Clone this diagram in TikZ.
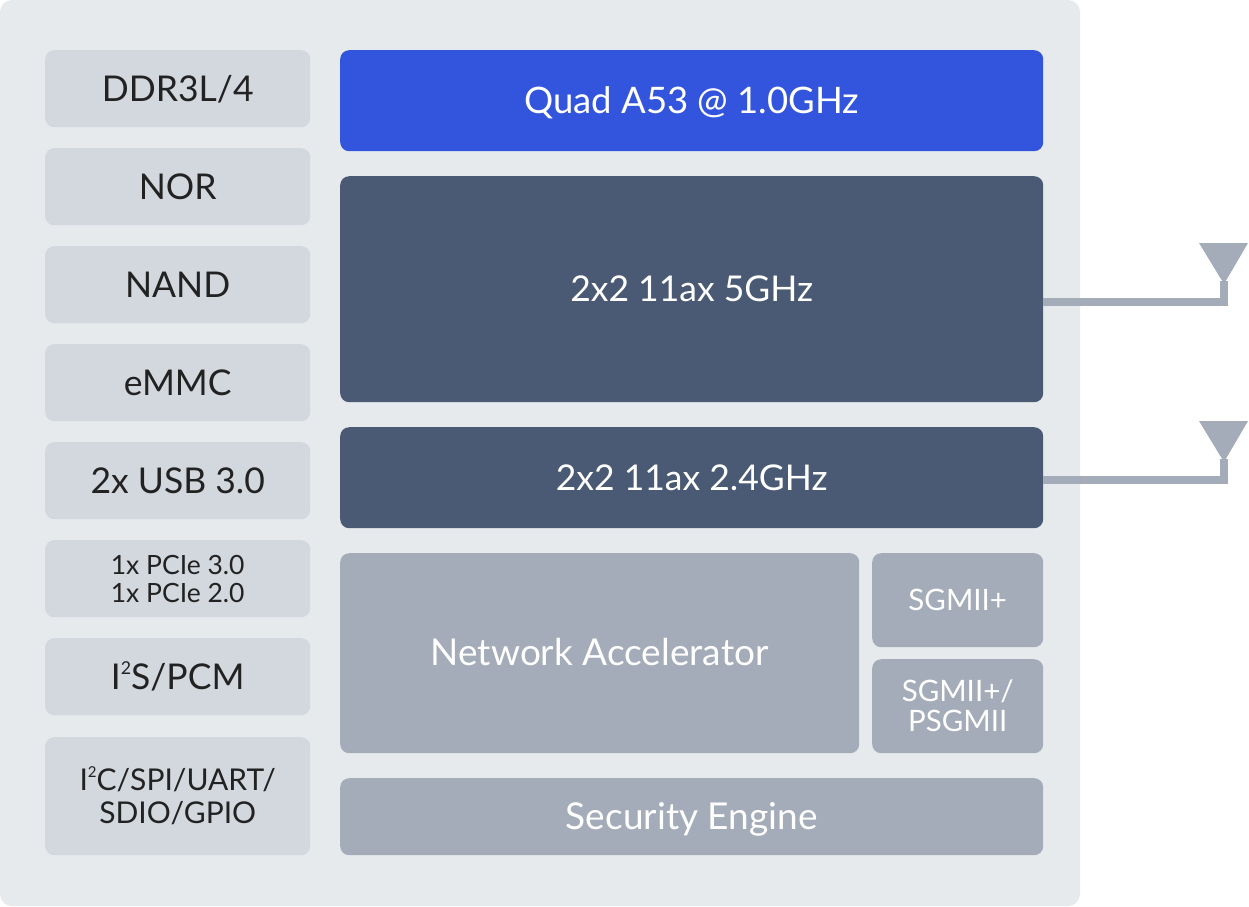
\documentclass[tikz,border=0pt]{standalone}
\usepackage{fontspec}
\setmainfont{Lato}
\definecolor{bgc}{HTML}{E6EAED}
\definecolor{leftc}{HTML}{D3D7DE}
\definecolor{bluec}{HTML}{3355DD}
\definecolor{darkc}{HTML}{4A5A75}
\definecolor{grayc}{HTML}{A5ACB9}
\definecolor{txtc}{HTML}{222222}
\newcommand{\supsmall}[1]{\raisebox{0.42em}{\scalebox{0.5}{#1}}}
\tikzset{
  blk/.style={anchor=north west, rounded corners=9pt, inner sep=0pt, align=center, font=\fontsize{35.5}{40}\selectfont, text height=25.5pt, text depth=0pt},
  leftbox/.style={blk, fill=leftc, text=txtc, minimum width=265pt},
  whitebox/.style={blk, text=white},
  ant/.style={grayc, line width=7.5pt},
  antfill/.style={fill=grayc},
}
\begin{document}
\begin{tikzpicture}[x=1pt,y=-1pt]
\useasboundingbox (0,0) rectangle (1249,906);
\fill[bgc, rounded corners=12pt] (0,0) rectangle (1080,906);
% left column
\node[leftbox, minimum height=77pt] (ddr) at (45,50) {DDR3L/4};
\node[leftbox, minimum height=77pt] (nor) at (45,148) {NOR};
\node[leftbox, minimum height=77pt] (nand) at (45,246) {NAND};
\node[leftbox, minimum height=77pt] (emmc) at (45,344) {eMMC};
\node[leftbox, minimum height=77pt] (usb) at (45,442) {2x USB 3.0};
\node[leftbox, minimum height=77pt, font=\fontsize{26.5}{28}\selectfont, text height=47pt] (pcie) at (45,540) {1x PCIe 3.0\\1x PCIe 2.0};
\node[leftbox, minimum height=77pt] (i2s) at (45,638) {I\supsmall{2}S/PCM};
\node[leftbox, minimum height=118pt, font=\fontsize{30}{33}\selectfont, text height=54.6pt] (i2c) at (45,737) {I\supsmall{2}C/SPI/UART/\\SDIO/GPIO};
% right column
\node[whitebox, fill=bluec, minimum width=703pt, minimum height=101pt, font=\fontsize{36.5}{40}\selectfont] (cpu) at (340,50) {Quad A53 @ 1.0GHz};
\node[whitebox, fill=darkc, minimum width=703pt, minimum height=226pt] (g5) at (340,176) {2x2 11ax 5GHz};
\node[whitebox, fill=darkc, minimum width=703pt, minimum height=101pt] (g24) at (340,427) {2x2 11ax 2.4GHz};
\node[whitebox, fill=grayc, minimum width=519pt, minimum height=200pt, font=\fontsize{37}{40}\selectfont] (na) at (340,553) {Network Accelerator};
\node[whitebox, fill=grayc, minimum width=171pt, minimum height=94pt, font=\fontsize{29.5}{30}\selectfont, text height=21.2pt] (sg1) at (872,553) {SGMII+};
\node[whitebox, fill=grayc, minimum width=171pt, minimum height=94pt, font=\fontsize{29.5}{30}\selectfont, text height=51.2pt] (sg2) at (872,659) {SGMII+/\\PSGMII};
\node[whitebox, fill=grayc, minimum width=703pt, minimum height=77pt, font=\fontsize{37}{40}\selectfont] (sec) at (340,778) {Security Engine};
% antennas
\coordinate (a1) at (1224,302);
\coordinate (a1t) at (1224,281);
\coordinate (a2) at (1224,480);
\coordinate (a2t) at (1224,459);
\draw[ant] (g5.east |- a1) -- (a1) -- (a1t);
\draw[ant] (g24.east |- a2) -- (a2) -- (a2t);
\fill[antfill] (1199,243) -- (1248,243) -- (1224,284) -- cycle;
\fill[antfill] (1199,421) -- (1248,421) -- (1224,462) -- cycle;
\end{tikzpicture}
\end{document}
